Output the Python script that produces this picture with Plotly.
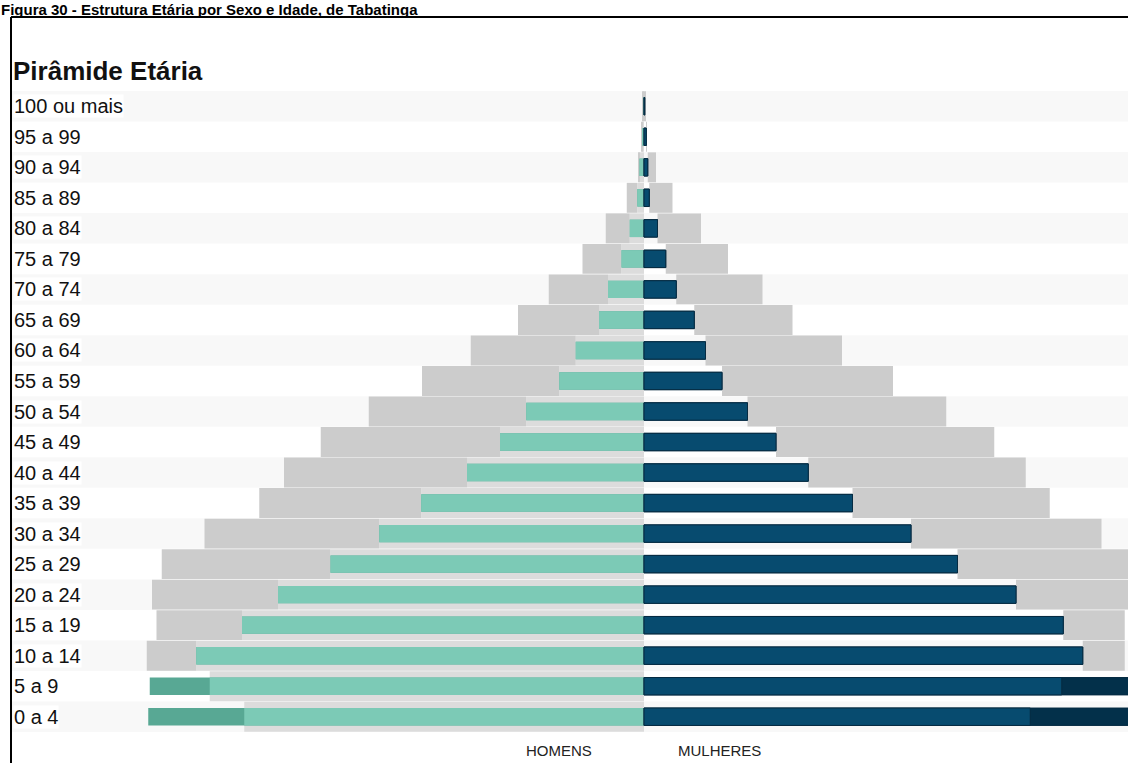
import plotly.graph_objects as go

# Age groups, listed top to bottom
age_groups = ["100 ou mais", "95 a 99", "90 a 94", "85 a 89", "80 a 84", "75 a 79",
              "70 a 74", "65 a 69", "60 a 64", "55 a 59", "50 a 54", "45 a 49",
              "40 a 44", "35 a 39", "30 a 34", "25 a 29", "20 a 24", "15 a 19",
              "10 a 14", "5 a 9", "0 a 4"]

# Tabatinga population share (%) by sex
homens = [0.01, 0.02, 0.06, 0.09, 0.19, 0.30, 0.48, 0.60, 0.91, 1.13, 1.57, 1.92,
          2.36, 2.97, 3.53, 4.18, 4.88, 5.36, 5.97, 6.59, 6.61]
mulheres = [0.01, 0.03, 0.05, 0.07, 0.18, 0.29, 0.43, 0.67, 0.82, 1.04, 1.38, 1.76,
            2.19, 2.78, 3.56, 4.18, 4.96, 5.59, 5.85, 6.70, 6.80]

# Reference population share (%) shown in grey behind
ref_homens = [0.02, 0.03, 0.08, 0.23, 0.51, 0.82, 1.27, 1.68, 2.31, 2.96, 3.67, 4.31,
              4.80, 5.13, 5.86, 6.43, 6.56, 6.50, 6.63, 5.79, 5.33]
ref_mulheres = [0.02, 0.04, 0.16, 0.38, 0.76, 1.12, 1.58, 1.98, 2.64, 3.32, 4.03, 4.67,
                5.09, 5.41, 6.10, 6.60, 6.67, 6.41, 6.41, 5.57, 5.15]

FIG_W, FIG_H = 1128, 763
M_L, M_R, M_T, M_B = 140, 0, 91, 31
PW, PH = FIG_W - M_L - M_R, FIG_H - M_T - M_B
X_MIN, X_MAX = -6.72, 6.4533

FONT = "Liberation Sans, Arial, sans-serif"

TEAL, TEAL_DARK = "#7ccab6", "#58a894"
NAVY, NAVY_DARK = "#074b6f", "#03304a"
GREY, GREY_LIGHT = "#cccccc", "#dcdcdc"
BAND = "#f8f8f8"
BAR_W = 0.57


def px(xp):
    return (xp - M_L) / PW


def py(yp):
    return (M_T + PH - yp) / PH


def hbar(x, base, color, width, line=None, name=None):
    return go.Bar(y=age_groups, x=x, base=base, orientation="h", width=width,
                  marker=dict(color=color, line=line or dict(width=0)),
                  name=name, showlegend=False,
                  hoverinfo="skip" if name is None else None)


n = len(age_groups)
zeros = [0] * n

fig = go.Figure()

# men side: lighter grey behind the teal bar, regular grey beyond it
fig.add_trace(hbar([-min(h, r) for h, r in zip(homens, ref_homens)], zeros, GREY_LIGHT, 0.98))
fig.add_trace(hbar([-max(r - h, 0) for h, r in zip(homens, ref_homens)],
                   [-h for h in homens], GREY, 0.98))
# women side: grey from the end of the navy bar out to the reference value
fig.add_trace(hbar([max(r - m, 0) for m, r in zip(mulheres, ref_mulheres)],
                   mulheres, GREY, 0.98))

# municipal bars: darker where they run past the grey reference bar
navy_line = dict(width=1, color="#062b42")
fig.add_trace(hbar([-h for h in homens], zeros, TEAL_DARK, BAR_W, name="HOMENS"))
fig.add_trace(hbar([-min(h, r) for h, r in zip(homens, ref_homens)], zeros, TEAL, BAR_W))
fig.add_trace(hbar(mulheres, zeros, NAVY_DARK, BAR_W, line=navy_line, name="MULHERES"))
fig.add_trace(hbar([min(m, r) for m, r in zip(mulheres, ref_mulheres)], zeros, NAVY,
                   BAR_W, line=navy_line))

shapes = []
# alternating row bands
for i in range(0, n, 2):
    shapes.append(dict(type="rect", xref="paper", yref="y",
                       x0=px(12), x1=px(FIG_W + 5), y0=i - 0.5, y1=i + 0.5,
                       fillcolor=BAND, line=dict(width=0), layer="below"))
# frame around the chart
FRAME_TOP = 17
shapes.append(dict(type="line", xref="paper", yref="paper",
                   x0=px(11), x1=px(FIG_W + 5), y0=py(FRAME_TOP), y1=py(FRAME_TOP),
                   line=dict(color="#000000", width=2)))
shapes.append(dict(type="line", xref="paper", yref="paper",
                   x0=px(11), x1=px(11), y0=py(FRAME_TOP), y1=py(FIG_H + 5),
                   line=dict(color="#000000", width=2)))

annotations = []
for lab in age_groups:
    annotations.append(dict(x=px(13), xref="paper", y=lab, yref="y",
                            xanchor="left", yanchor="middle", text=lab,
                            showarrow=False, bgcolor="#ffffff", borderpad=0,
                            font=dict(family=FONT, size=20, color="#111111")))

annotations += [
    dict(x=px(0), y=py(0), xref="paper", yref="paper", xanchor="left", yanchor="top",
         text="<b>Figura 30 - Estrutura Etária por Sexo e Idade, de Tabatinga</b>",
         showarrow=False, borderpad=0, font=dict(family=FONT, size=15, color="#000000")),
    dict(x=px(11), y=py(71), xref="paper", yref="paper", xanchor="left", yanchor="middle",
         text="<b>Pirâmide Etária</b>", showarrow=False,
         font=dict(family=FONT, size=26, color="#111111")),
    dict(x=px(559), y=py(750), xref="paper", yref="paper", xanchor="center", yanchor="middle",
         text="HOMENS", showarrow=False, font=dict(family=FONT, size=15, color="#222222")),
    dict(x=px(719), y=py(750), xref="paper", yref="paper", xanchor="center", yanchor="middle",
         text="MULHERES", showarrow=False, font=dict(family=FONT, size=15, color="#222222")),
]

fig.update_layout(
    width=FIG_W, height=FIG_H,
    margin=dict(l=M_L, r=M_R, t=M_T, b=M_B, pad=0),
    paper_bgcolor="#ffffff", plot_bgcolor="rgba(0,0,0,0)",
    barmode="overlay",
    xaxis=dict(range=[X_MIN, X_MAX], visible=False, fixedrange=True),
    yaxis=dict(type="category", categoryorder="array", categoryarray=age_groups,
               range=[n - 0.5, -0.5], visible=False, fixedrange=True),
    shapes=shapes, annotations=annotations,
    font=dict(family=FONT),
)

fig.write_html("out.html", config={"displayModeBar": False})
